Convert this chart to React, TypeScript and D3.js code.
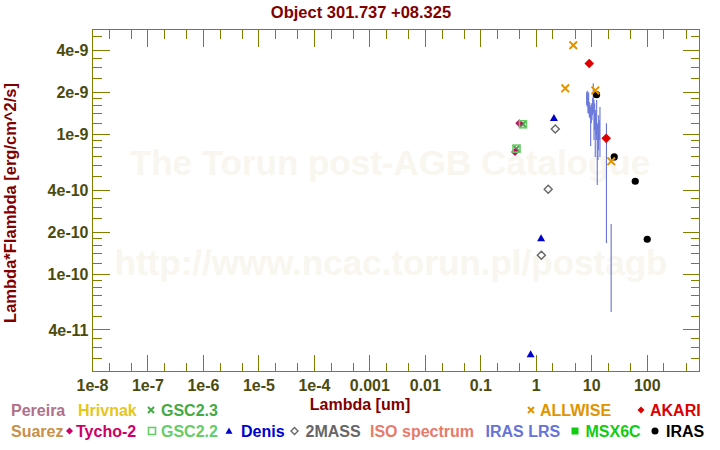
import React from 'react';
import * as d3 from 'd3';

const W = 720;
const H = 450;

// ---- axis ticks ----
const xTickValues = [1e-8, 1e-7, 1e-6, 1e-5, 1e-4, 1e-3, 1e-2, 0.1, 1, 10, 100];
const xTickLabels = ['1e-8', '1e-7', '1e-6', '1e-5', '1e-4', '0.001', '0.01', '0.1', '1', '10', '100'];
const xMinorMantissas = [2, 5];
const yTickValues = [4e-9, 2e-9, 1e-9, 4e-10, 2e-10, 1e-10, 4e-11];
const yTickLabels = ['4e-9', '2e-9', '1e-9', '4e-10', '2e-10', '1e-10', '4e-11'];
const yMajorMantissas = [1, 2, 4];
const yMinorMantissas = [1.2, 1.4, 1.6, 1.8, 2.5, 3, 3.5, 5, 6, 7, 8, 9];

// ---- photometry ----
const gsc23Wave = [0.44, 0.575];
const gsc23Flux = [7.9e-10, 1.18e-9];
const tychoWave = [0.413, 0.494];
const tychoFlux = [7.48e-10, 1.2e-9];
const gsc22Wave = [0.44, 0.575];
const gsc22Flux = [7.9e-10, 1.18e-9];
const denisWave = [0.79, 1.22, 2.08];
const denisFlux = [2.68e-11, 1.81e-10, 1.31e-9];
const twomassWave = [1.235, 1.64, 2.2];
const twomassFlux = [1.37e-10, 4.05e-10, 1.09e-9];
const irasWave = [12.2, 25.4, 60.8, 100];
const irasFlux = [1.92e-9, 6.89e-10, 4.62e-10, 1.78e-10];
const allwiseWave = [3.33, 4.64, 11.6, 22.4];
const allwiseFlux = [2.13e-9, 4.33e-9, 2.06e-9, 6.41e-10];
const akariWave = [9.0, 18.2];
const akariFlux = [3.21e-9, 9.36e-10];

// ---- IRAS LRS spectrum (wavelength, low, high) ----
const lrsWave = [8.09, 8.30, 8.54, 8.79, 9.02, 9.28, 9.55, 9.79, 10.08, 10.38, 10.64, 10.96, 11.28, 11.56, 11.90, 12.25, 12.56, 12.93, 13.31, 13.65, 14.05, 18.4, 22.37];
const lrsLow = [1.62e-9, 1.57e-9, 1.42e-9, 1.40e-9, 1.33e-9, 1.30e-9, 8.25e-10, 1.20e-9, 1.26e-9, 1.37e-9, 1.42e-9, 9.10e-10, 1.07e-9, 6.89e-10, 9.89e-10, 9.10e-10, 4.35e-10, 6.55e-10, 7.73e-10, 9.10e-10, 6.89e-10, 1.67e-10, 5.38e-11];
const lrsHigh = [2.00e-9, 2.05e-9, 1.91e-9, 2.00e-9, 1.70e-9, 1.62e-9, 1.57e-9, 1.67e-9, 1.62e-9, 1.82e-9, 2.32e-9, 1.76e-9, 1.67e-9, 1.49e-9, 1.42e-9, 1.76e-9, 1.20e-9, 1.17e-9, 1.37e-9, 1.26e-9, 1.57e-9, 1.20e-9, 2.29e-10];

// ---- legend ----
const legendNames = ['Pereira', 'Hrivnak', 'GSC2.3', 'ALLWISE', 'AKARI', 'Suarez', 'Tycho-2', 'GSC2.2', 'Denis', '2MASS', 'ISO spectrum', 'IRAS LRS', 'MSX6C', 'IRAS'];
const legendColors = ['#b0708c', '#e6c619', '#44aa44', '#e09400', '#dd0000', '#c8904a', '#cc0066', '#66cc66', '#0000cc', '#666666', '#e87a6a', '#6674d8', '#11cc11', '#000000'];
const legendMarkers = ['', '', 'x', 'x', 'diamond', '', 'diamond', 'square', 'triangle', 'odiamond', '', '', 'fsquare', 'circle'];

// layout (not data)
const legendLayout: { row: number; mx: number | null; tx: number }[] = [
  { row: 0, mx: null, tx: 11 },
  { row: 0, mx: null, tx: 78 },
  { row: 0, mx: 151, tx: 161 },
  { row: 0, mx: 531, tx: 540 },
  { row: 0, mx: 641, tx: 650 },
  { row: 1, mx: null, tx: 11 },
  { row: 1, mx: 69.5, tx: 76 },
  { row: 1, mx: 152, tx: 161 },
  { row: 1, mx: 229, tx: 241 },
  { row: 1, mx: 294.5, tx: 305.5 },
  { row: 1, mx: null, tx: 370 },
  { row: 1, mx: null, tx: 485.5 },
  { row: 1, mx: 575, tx: 585.5 },
  { row: 1, mx: 655, tx: 666 },
];

const FONT = '"Liberation Sans", Arial, Helvetica, sans-serif';
const AXIS = '#808000';
const TICKTXT = '#4b4b10';
const DARKRED = '#800000';

function Marker({ type, cx, cy, color, s }: { type: string; cx: number; cy: number; color: string; s: number }) {
  switch (type) {
    case 'x':
      return (
        <path d={`M${cx - s},${cy - s}L${cx + s},${cy + s}M${cx - s},${cy + s}L${cx + s},${cy - s}`} stroke={color} strokeWidth={2} fill="none" />
      );
    case 'diamond':
      return <path d={`M${cx},${cy - s}L${cx + s},${cy}L${cx},${cy + s}L${cx - s},${cy}Z`} fill={color} />;
    case 'odiamond':
      return <path d={`M${cx},${cy - s}L${cx + s},${cy}L${cx},${cy + s}L${cx - s},${cy}Z`} fill="none" stroke={color} strokeWidth={1.4} />;
    case 'square':
      return <rect x={cx - s} y={cy - s} width={2 * s} height={2 * s} fill="none" stroke={color} strokeWidth={1.6} />;
    case 'fsquare':
      return <rect x={cx - s} y={cy - s} width={2 * s} height={2 * s} fill={color} />;
    case 'triangle':
      return <path d={`M${cx},${cy - s}L${cx + s},${cy + s * 0.75}L${cx - s},${cy + s * 0.75}Z`} fill={color} />;
    case 'circle':
      return <circle cx={cx} cy={cy} r={s} fill={color} />;
    default:
      return null;
  }
}

export default function App() {
  const x = d3.scaleLog().domain([1e-8, 875]).range([92.5, 699.5]);
  const y = d3.scaleLog().domain([2.02e-11, 5.61e-9]).range([371.5, 29.5]);
  const [x0, x1] = x.range();
  const [yb, yt] = y.range();

  const xMajors = xTickValues.filter((v) => v > x.domain()[0] * 1.0001);
  const xMinors: number[] = [];
  for (let k = -8; k <= 2; k++) for (const m of xMinorMantissas) {
    const v = m * Math.pow(10, k);
    if (v < x.domain()[1]) xMinors.push(v);
  }
  const yMaj: number[] = [];
  const yMin: number[] = [];
  for (let k = -12; k <= -8; k++) {
    for (const m of yMajorMantissas) { const v = m * Math.pow(10, k); if (v > y.domain()[0] && v < y.domain()[1]) yMaj.push(v); }
    for (const m of yMinorMantissas) { const v = m * Math.pow(10, k); if (v > y.domain()[0] && v < y.domain()[1]) yMin.push(v); }
  }
  const MAJ = 17;
  const MIN = 9;

  const series = [
    { wave: gsc23Wave, flux: gsc23Flux, type: 'x', color: '#44aa44', s: 3.5 },
    { wave: tychoWave, flux: tychoFlux, type: 'diamond', color: '#cc0066', s: 4 },
    { wave: gsc22Wave, flux: gsc22Flux, type: 'square', color: '#66cc66', s: 3.5 },
    { wave: denisWave, flux: denisFlux, type: 'triangle', color: '#0000cc', s: 4 },
    { wave: twomassWave, flux: twomassFlux, type: 'odiamond', color: '#666666', s: 4 },
  ];
  const series2 = [
    { wave: irasWave, flux: irasFlux, type: 'circle', color: '#000000', s: 3.6 },
    { wave: allwiseWave, flux: allwiseFlux, type: 'x', color: '#e09400', s: 3.8 },
    { wave: akariWave, flux: akariFlux, type: 'diamond', color: '#dd0000', s: 4.8 },
  ];

  const rowBase = [416, 437];

  return (
    <svg width={W} height={H} style={{ position: 'absolute', left: 0, top: 0, background: '#fff' }} fontFamily={FONT}>
      <rect x={0} y={0} width={W} height={H} fill="#ffffff" />
      {/* watermark */}
      <text x={390} y={175} textAnchor="middle" fontSize={35} fontWeight="bold" fill="#f8f6ee">The Torun post-AGB Catalogue</text>
      <text x={391} y={275} textAnchor="middle" fontSize={35} fontWeight="bold" fill="#f8f6ee">http://www.ncac.torun.pl/postagb</text>

      {/* ticks */}
      <g stroke={AXIS} strokeWidth={1} shapeRendering="crispEdges">
        {xMajors.map((v, i) => (
          <g key={'xm' + i}>
            <line x1={x(v)} x2={x(v)} y1={yb} y2={yb - MAJ} />
            <line x1={x(v)} x2={x(v)} y1={yt} y2={yt + MAJ} />
          </g>
        ))}
        {xMinors.map((v, i) => (
          <g key={'xn' + i}>
            <line x1={x(v)} x2={x(v)} y1={yb} y2={yb - MIN} />
            <line x1={x(v)} x2={x(v)} y1={yt} y2={yt + MIN} />
          </g>
        ))}
        {yMaj.map((v, i) => (
          <g key={'ym' + i}>
            <line x1={x0} x2={x0 + MAJ} y1={y(v)} y2={y(v)} />
            <line x1={x1} x2={x1 - MAJ} y1={y(v)} y2={y(v)} />
          </g>
        ))}
        {yMin.map((v, i) => (
          <g key={'yn' + i}>
            <line x1={x0} x2={x0 + MIN} y1={y(v)} y2={y(v)} />
            <line x1={x1} x2={x1 - MIN} y1={y(v)} y2={y(v)} />
          </g>
        ))}
        <rect x={x0} y={yt} width={x1 - x0} height={yb - yt} fill="none" />
      </g>

      {/* tick labels */}
      <g fontSize={16} fontWeight="bold" fill={TICKTXT}>
        {xTickValues.map((v, i) => (
          <text key={'xl' + i} x={x(v)} y={391} textAnchor="middle">{xTickLabels[i]}</text>
        ))}
        {yTickValues.map((v, i) => (
          <text key={'yl' + i} x={88.5} y={y(v) + 5.7} textAnchor="end">{yTickLabels[i]}</text>
        ))}
      </g>

      {/* data: photometry before spectra */}
      {series.map((s, si) =>
        s.wave.map((w, i) => <Marker key={`s${si}-${i}`} type={s.type} cx={x(w)} cy={y(s.flux[i])} color={s.color} s={s.s} />)
      )}
      <g stroke="#6674d8" strokeWidth={1.1}>
        {lrsWave.map((w, i) => (
          <line key={'lrs' + i} x1={x(w)} x2={x(w)} y1={y(lrsLow[i])} y2={y(lrsHigh[i])} />
        ))}
      </g>
      {series2.map((s, si) =>
        s.wave.map((w, i) => <Marker key={`t${si}-${i}`} type={s.type} cx={x(w)} cy={y(s.flux[i])} color={s.color} s={s.s} />)
      )}

      {/* titles */}
      <text x={361} y={18} textAnchor="middle" fontSize={16.5} fontWeight="bold" fill={DARKRED}>Object 301.737 +08.325</text>
      <text x={360} y={410} textAnchor="middle" fontSize={16} fontWeight="bold" fill={DARKRED}>Lambda [um]</text>
      <text transform="translate(15.5,203) rotate(-90)" textAnchor="middle" fontSize={16.5} fontWeight="bold" fill={DARKRED}>Lambda*Flambda [erg/cm^2/s]</text>

      {/* legend */}
      <g fontSize={16} fontWeight="bold">
        {legendNames.map((n, i) => {
          const L = legendLayout[i];
          const by = rowBase[L.row];
          return (
            <g key={'lg' + i}>
              {L.mx !== null && legendMarkers[i] && (
                <Marker type={legendMarkers[i]} cx={L.mx} cy={by - 6} color={legendColors[i]} s={legendMarkers[i] === 'x' ? 3 : 3.5} />
              )}
              <text x={L.tx} y={by} fill={legendColors[i]}>{n}</text>
            </g>
          );
        })}
      </g>
    </svg>
  );
}
